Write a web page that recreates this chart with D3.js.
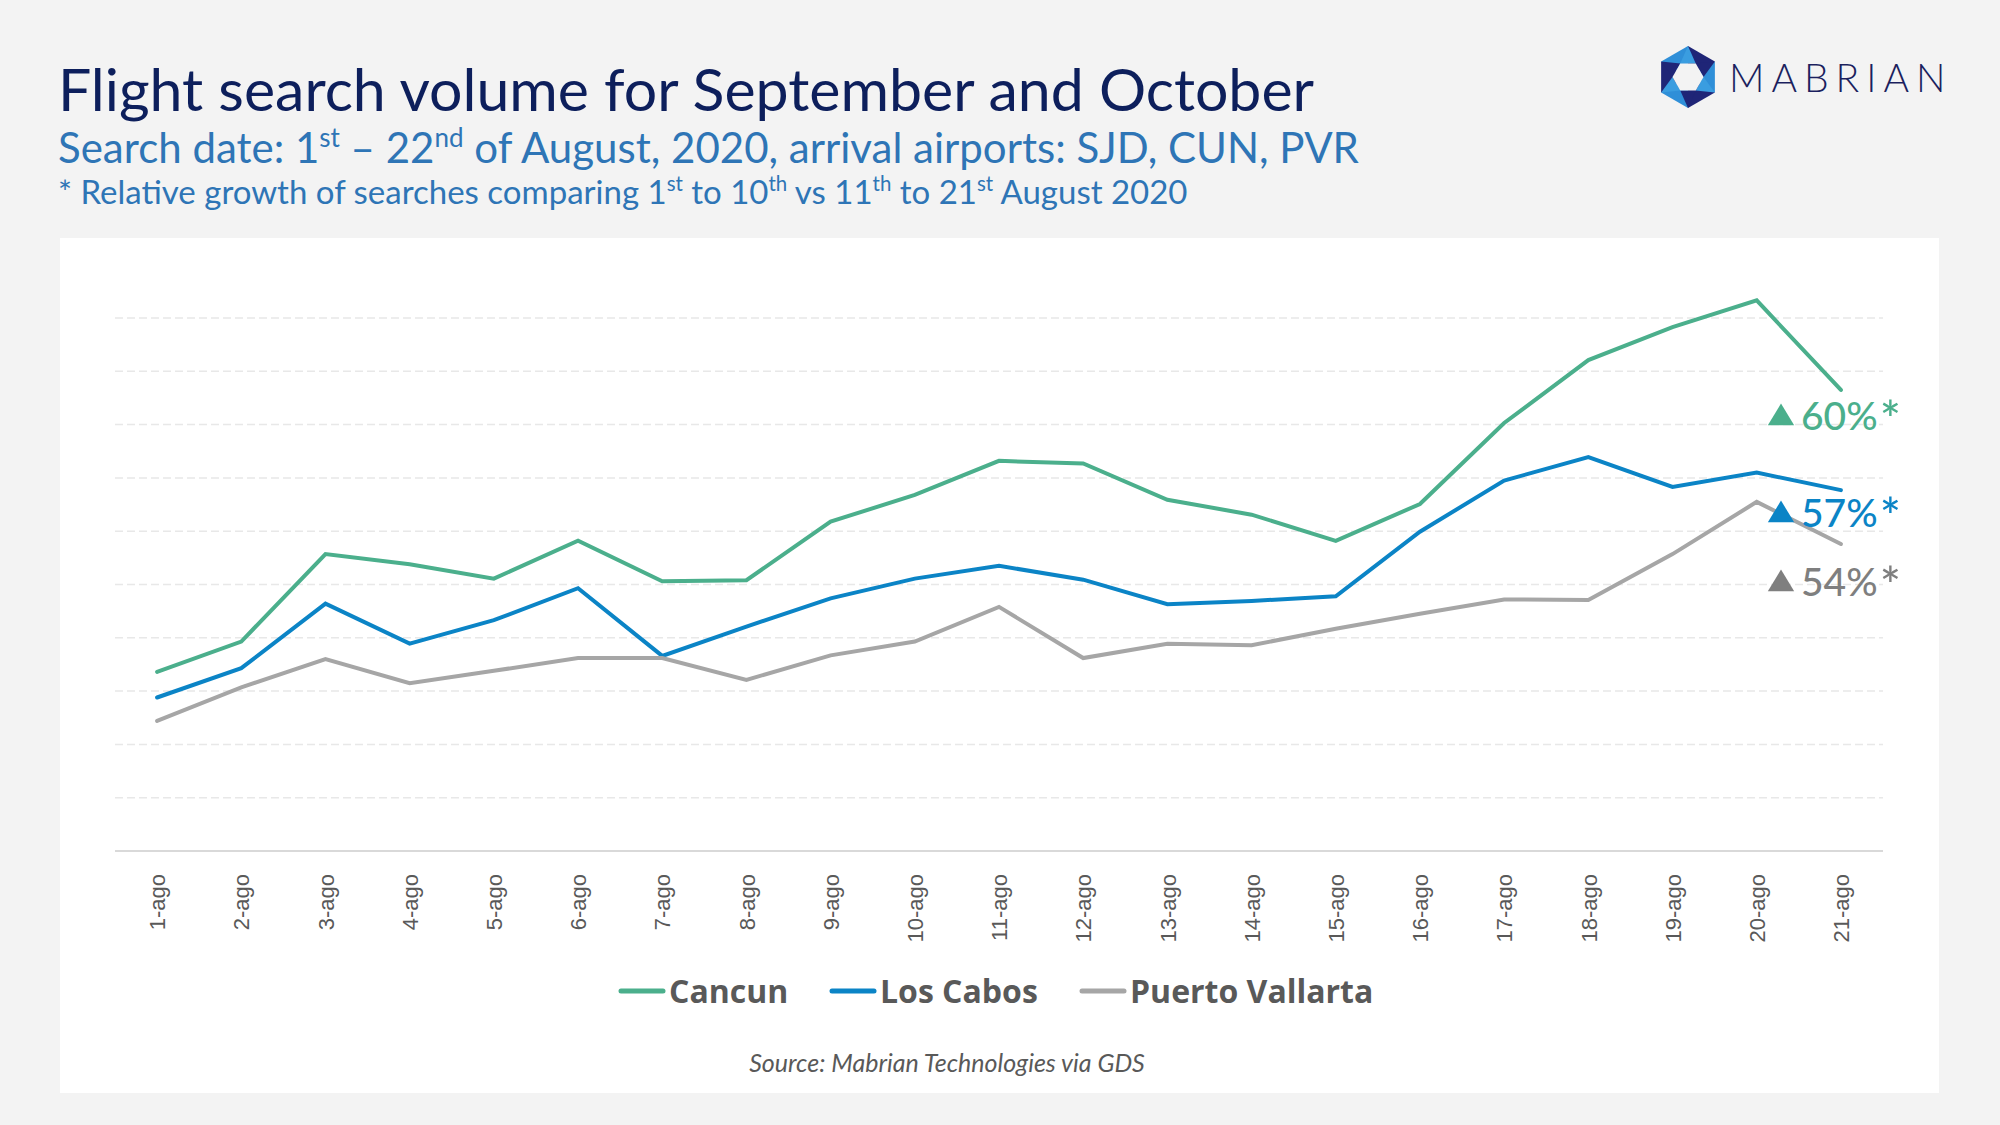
<!DOCTYPE html>
<html>
<head>
<meta charset="utf-8">
<script src="https://cdn.jsdelivr.net/npm/d3@7"></script>
<style>
  html, body { margin: 0; padding: 0; background: #f3f3f3; }
  svg { display: block; }
</style>
</head>
<body>
<div id="chart"></div>
<script>
// Flight search volume, Mexican arrival airports, August 2020 (relative index)

const days = ["1-ago","2-ago","3-ago","4-ago","5-ago","6-ago","7-ago","8-ago","9-ago","10-ago",
  "11-ago","12-ago","13-ago","14-ago","15-ago","16-ago","17-ago","18-ago","19-ago","20-ago","21-ago"];

const cancun = [3.36, 3.93, 5.57, 5.38, 5.11, 5.82, 5.06, 5.08, 6.18, 6.68, 7.32,
  7.27, 6.59, 6.31, 5.82, 6.51, 8.03, 9.21, 9.83, 10.33, 8.65];
const losCabos = [2.88, 3.43, 4.64, 3.89, 4.33, 4.93, 3.66, 4.21, 4.74, 5.11, 5.35,
  5.09, 4.63, 4.69, 4.78, 5.99, 6.95, 7.39, 6.83, 7.10, 6.77];
const puertoVallarta = [2.44, 3.07, 3.60, 3.15, 3.38, 3.62, 3.62, 3.21, 3.67, 3.93, 4.58,
  3.62, 3.89, 3.86, 4.17, 4.45, 4.72, 4.71, 5.57, 6.55, 5.76];

const seriesNames = ["Cancun", "Los Cabos", "Puerto Vallarta"];
const growthLabels = ["60%", "57%", "54%"];

const W = 2000, H = 1125;
const colors = ["#4baf8c", "#0b84c6", "#a6a6a6"];
const growthColors = ["#4baf8c", "#0b84c6", "#7f7f7f"];
const series = [cancun, losCabos, puertoVallarta];

const svg = d3.select("#chart").append("svg")
  .attr("width", W).attr("height", H);

svg.append("rect").attr("width", W).attr("height", H).attr("fill", "#f3f3f3");
// white chart panel
svg.append("rect")
  .attr("x", 60).attr("y", 238).attr("width", 1879).attr("height", 855)
  .attr("fill", "#ffffff");

// titles
svg.append("text")
  .attr("x", 58).attr("y", 111)
  .attr("font-family", "Lato, sans-serif").attr("font-size", 59)
  .attr("fill", "#0d1f5c")
  .text("Flight search volume for September and October");

function supLine(y, size, parts) {
  const t = svg.append("text")
    .attr("x", 58).attr("y", y)
    .attr("font-family", "Lato, sans-serif").attr("font-size", size)
    .attr("fill", "#2e75b6");
  const up = size * 0.38;
  let raised = false;
  parts.forEach(p => {
    if (p.sup) {
      t.append("tspan").attr("font-size", size * 0.62).attr("dy", -up).text(p.sup);
      raised = true;
    } else {
      const s = t.append("tspan").text(p.t);
      if (raised) { s.attr("dy", up); raised = false; }
    }
  });
}
supLine(163, 42, [{t: "Search date: 1"}, {sup: "st"}, {t: " – 22"}, {sup: "nd"},
  {t: " of August, 2020, arrival airports: SJD, CUN, PVR"}]);
supLine(204, 33, [{t: "* Relative growth of searches comparing 1"}, {sup: "st"}, {t: " to 10"}, {sup: "th"},
  {t: " vs 11"}, {sup: "th"}, {t: " to 21"}, {sup: "st"}, {t: " August 2020"}]);

// logo
const lg = svg.append("g").attr("transform", "translate(1688,77)");
const R = 31;
const hex = d3.range(6).map(i => {
  const a = Math.PI / 180 * (60 * i - 90);
  return [R * Math.cos(a), R * Math.sin(a)];
});
hex.forEach((p, i) => {
  const q = hex[(i + 1) % 6];
  lg.append("polygon")
    .attr("points", [[0, 0], p, q].map(d => d.join(",")).join(" "))
    .attr("fill", i % 2 ? "#2f8fd8" : "#1f2577");
});
const inner = d3.range(6).map(i => {
  const a = Math.PI / 180 * (60 * i - 60);
  return [R * 0.5 * Math.cos(a), R * 0.5 * Math.sin(a)];
});
hex.forEach((p, i) => {
  lg.append("polygon")
    .attr("points", [p, inner[i], inner[(i + 5) % 6]].map(d => d.join(",")).join(" "))
    .attr("fill", i % 2 ? "#1f2577" : "#3a9de0");
});
lg.append("polygon")
  .attr("points", inner.map(d => d.join(",")).join(" "))
  .attr("fill", "#f3f3f3");
svg.append("text")
  .attr("x", 1729).attr("y", 92)
  .attr("font-family", "Lato, sans-serif").attr("font-weight", 300)
  .attr("font-size", 39).attr("letter-spacing", 7)
  .attr("fill", "#1b1f5e")
  .text("MABRIAN");

// scales
const x = d3.scalePoint().domain(days).range([115, 1883]).padding(0.5);
const y = d3.scaleLinear().domain([0, 10]).range([851, 318]);

// gridlines
svg.append("g").selectAll("line")
  .data(y.ticks(10).filter(d => d > 0))
  .join("line")
  .attr("x1", 115).attr("x2", 1883)
  .attr("y1", d => y(d)).attr("y2", d => y(d))
  .attr("stroke", "#e8e8e8").attr("stroke-width", 1.5)
  .attr("stroke-dasharray", "8,4");

// x axis
const xAxis = svg.append("g")
  .attr("transform", `translate(0,${y(0)})`)
  .call(d3.axisBottom(x).tickSize(0).tickPadding(0));
xAxis.select(".domain").remove();
svg.append("line")
  .attr("x1", 115).attr("x2", 1883).attr("y1", y(0)).attr("y2", y(0))
  .attr("stroke", "#d9d9d9").attr("stroke-width", 2);
xAxis.selectAll("text")
  .attr("font-family", "'Liberation Sans', Arial, sans-serif")
  .attr("font-size", 22).attr("fill", "#595959")
  .attr("text-anchor", "end")
  .attr("transform", "translate(0,23) rotate(-90)")
  .attr("dx", 0).attr("dy", "0.35em").attr("y", 0).attr("x", 0);

// lines
const line = d3.line().x((d, i) => x(days[i])).y(d => y(d));
series.forEach((s, k) => {
  svg.append("path")
    .datum(s)
    .attr("d", line)
    .attr("fill", "none")
    .attr("stroke", colors[k])
    .attr("stroke-width", 4)
    .attr("stroke-linejoin", "miter")
    .attr("stroke-linecap", "round");
});

// growth annotations
const annY = [430, 527, 596];
growthLabels.forEach((lab, k) => {
  svg.append("path")
    .attr("d", d3.symbol(d3.symbolTriangle, 300)())
    .attr("transform", `translate(1781,${annY[k] - 12}) scale(1,0.95)`)
    .attr("fill", growthColors[k]);
  const t = svg.append("text")
    .attr("x", 1801).attr("y", annY[k])
    .attr("font-family", "Lato, sans-serif").attr("font-size", 39)
    .attr("font-weight", 500)
    .attr("fill", growthColors[k])
    .text(lab);
  t.append("tspan").attr("font-size", 50).attr("dx", 2).attr("dy", 8).text("*");
});

// legend
const legendX = [621, 832, 1082];
seriesNames.forEach((n, k) => {
  const g = svg.append("g").attr("transform", `translate(${legendX[k]},991)`);
  g.append("line").attr("x1", 0).attr("x2", 42).attr("y1", 0).attr("y2", 0)
    .attr("stroke", colors[k]).attr("stroke-width", 5).attr("stroke-linecap", "round");
  g.append("text").attr("x", 48).attr("y", 12)
    .attr("font-family", "'Open Sans', sans-serif").attr("font-weight", 700)
    .attr("font-size", 32).attr("fill", "#595959")
    .text(n);
});

// source
svg.append("text")
  .attr("x", 947).attr("y", 1072)
  .attr("text-anchor", "middle")
  .attr("font-family", "Lato, sans-serif").attr("font-style", "italic")
  .attr("font-size", 25).attr("fill", "#595959")
  .text("Source: Mabrian Technologies via GDS");
</script>
</body>
</html>
